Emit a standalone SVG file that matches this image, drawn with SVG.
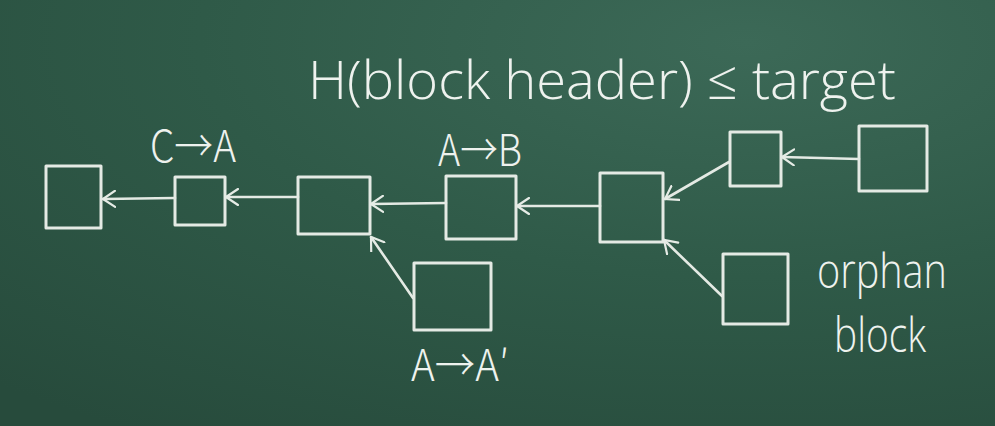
<svg xmlns="http://www.w3.org/2000/svg" width="995" height="426" viewBox="0 0 995 426">
  <defs>
    <radialGradient id="board" cx="0.75" cy="0.1" r="1.1">
      <stop offset="0" stop-color="#3c6957"/>
      <stop offset="0.5" stop-color="#2f5a48"/>
      <stop offset="1" stop-color="#274b3c"/>
    </radialGradient>
    <marker id="head" viewBox="0 0 14 18" refX="13" refY="9" markerWidth="14" markerHeight="18" markerUnits="userSpaceOnUse" orient="auto">
      <path d="M1,1 L13,9 L1,17" fill="none" stroke="#e6ece6" stroke-width="2.2" stroke-linecap="round"/>
    </marker>
    <style>
      .blk { fill: none; stroke: #e4eae4; stroke-width: 3; stroke-linejoin: round; }
      .link { fill: none; stroke: #e4eae4; stroke-width: 2.6; stroke-linecap: round; marker-end: url(#head); }
      .chalk { fill: #eef2ee; font-family: "Open Sans", "Noto Sans", "Liberation Sans", sans-serif; font-weight: 300; }
      .lbl { fill: #eef2ee; font-family: "Noto Sans CJK JP", "Noto Sans", sans-serif; font-weight: 300; }
    </style>
  </defs>

  <rect width="995" height="426" fill="url(#board)"/>

  <!-- formula -->
  <text class="chalk" x="308" y="99" font-size="54" textLength="588" lengthAdjust="spacingAndGlyphs">H(block header) ≤ target</text>

  <!-- blocks -->
  <g id="b1"><rect class="blk" x="46" y="166" width="55" height="62"/></g>
  <g id="b2"><rect class="blk" x="175" y="177" width="50" height="48"/></g>
  <g id="b3"><rect class="blk" x="298" y="177" width="72" height="57"/></g>
  <g id="b4"><rect class="blk" x="446" y="176" width="70" height="63"/></g>
  <g id="b5"><rect class="blk" x="600" y="173" width="63" height="69"/></g>
  <g id="b6"><rect class="blk" x="730" y="132" width="51" height="54"/></g>
  <g id="b7"><rect class="blk" x="859" y="126" width="68" height="65"/></g>
  <g id="b8"><rect class="blk" x="723" y="254" width="65" height="70"/></g>
  <g id="b9"><rect class="blk" x="414" y="263" width="77" height="67"/></g>

  <!-- hash pointers -->
  <g id="links">
    <line class="link" x1="175" y1="198" x2="103" y2="199"/>
    <line class="link" x1="298" y1="197" x2="226" y2="197"/>
    <line class="link" x1="446" y1="203" x2="371" y2="204"/>
    <line class="link" x1="600" y1="206" x2="517" y2="206"/>
    <line class="link" x1="729" y1="162" x2="665" y2="199"/>
    <line class="link" x1="859" y1="159" x2="782" y2="157"/>
    <line class="link" x1="722" y1="296" x2="664" y2="240"/>
    <line class="link" x1="413" y1="298" x2="371" y2="237"/>
  </g>

  <!-- labels -->
  <text class="lbl" x="150" y="162" font-size="44" textLength="86" lengthAdjust="spacingAndGlyphs">C→A</text>
  <text class="lbl" x="438" y="166" font-size="44" textLength="84" lengthAdjust="spacingAndGlyphs">A→B</text>
  <text class="lbl" x="411" y="381" font-size="44" textLength="98" lengthAdjust="spacingAndGlyphs">A→A′</text>
  <text class="chalk" x="817" y="288" font-size="48" textLength="130" lengthAdjust="spacingAndGlyphs">orphan</text>
  <text class="chalk" x="834" y="352" font-size="48" textLength="92" lengthAdjust="spacingAndGlyphs">block</text>
</svg>
